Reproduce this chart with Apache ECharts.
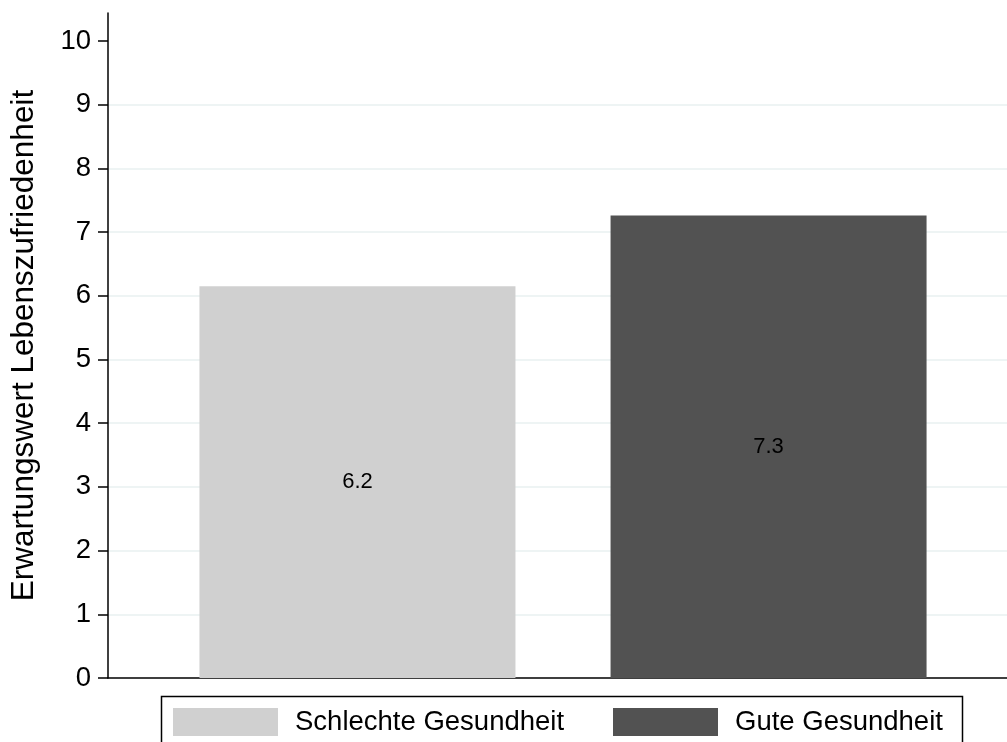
<!DOCTYPE html>
<html>
<head>
<meta charset="utf-8">
<script src="https://cdn.jsdelivr.net/npm/echarts@6/dist/echarts.min.js"></script>
<style>
  html, body { margin: 0; padding: 0; background: #fff; }
  #chart { width: 1007px; height: 742px; }
</style>
</head>
<body>
<div id="chart"></div>
<script>
// data
var categories = ['Schlechte Gesundheit', 'Gute Gesundheit'];
var values = [6.15, 7.26];
var barColors = ['#d0d0d0', '#525252'];
var yTicks = [0, 1, 2, 3, 4, 5, 6, 7, 8, 9, 10];
var yTitle = 'Erwartungswert Lebenszufriedenheit';

var font = 'Liberation Sans, Arial, sans-serif';

var series = categories.map(function (c, i) {
  return {
    name: c,
    type: 'bar',
    barWidth: 316,
    barGap: '-100%',
    itemStyle: { color: barColors[i] },
    label: {
      show: true,
      position: 'inside',
      color: '#000',
      fontSize: 22,
      fontFamily: font,
      formatter: function (p) { return p.value[1].toFixed(1); }
    },
    data: [[i + 1, values[i]]]
  };
});

var legendLeft = [168, 608];
var legends = categories.map(function (c, i) {
  return {
    data: [c],
    left: legendLeft[i],
    top: 703,
    icon: 'rect',
    itemWidth: 105,
    itemHeight: 28,
    selectedMode: false,
    textStyle: { fontSize: 27.5, color: '#000', fontFamily: font, padding: [0, 0, 0, 12] }
  };
});

var chart = echarts.init(document.getElementById('chart'));
var option = {
  animation: false,
  backgroundColor: '#fff',
  textStyle: { fontFamily: font },
  grid: { left: 106, right: 0, top: 13, bottom: 64 },
  legend: legends,
  xAxis: {
    type: 'value',
    min: 0.3932,
    max: 2.58,
    axisLine: { show: true, lineStyle: { color: '#000', width: 1.5 } },
    axisTick: { show: false },
    axisLabel: { show: false },
    splitLine: { show: false }
  },
  yAxis: {
    type: 'value',
    min: 0,
    max: 10.44,
    interval: 1,
    name: yTitle,
    nameLocation: 'middle',
    nameGap: 68,
    nameTextStyle: { fontSize: 31.5, color: '#000', fontFamily: font },
    axisLine: { show: true, lineStyle: { color: '#000', width: 1.5 } },
    axisTick: { show: true, length: 10, customValues: yTicks, lineStyle: { color: '#000', width: 1.5 } },
    axisLabel: { customValues: yTicks, fontSize: 27.5, color: '#000', margin: 17, fontFamily: font },
    splitLine: {
      show: true,
      showMinLine: false,
      showMaxLine: false,
      lineStyle: { color: '#e8f0f1', width: 1.5 }
    }
  },
  graphic: [{
    type: 'rect',
    left: 159,
    top: 694,
    shape: { width: 801, height: 70 },
    style: { fill: 'none', stroke: '#000', lineWidth: 1.5 },
    silent: true
  }],
  series: series
};
chart.setOption(option);
</script>
</body>
</html>
